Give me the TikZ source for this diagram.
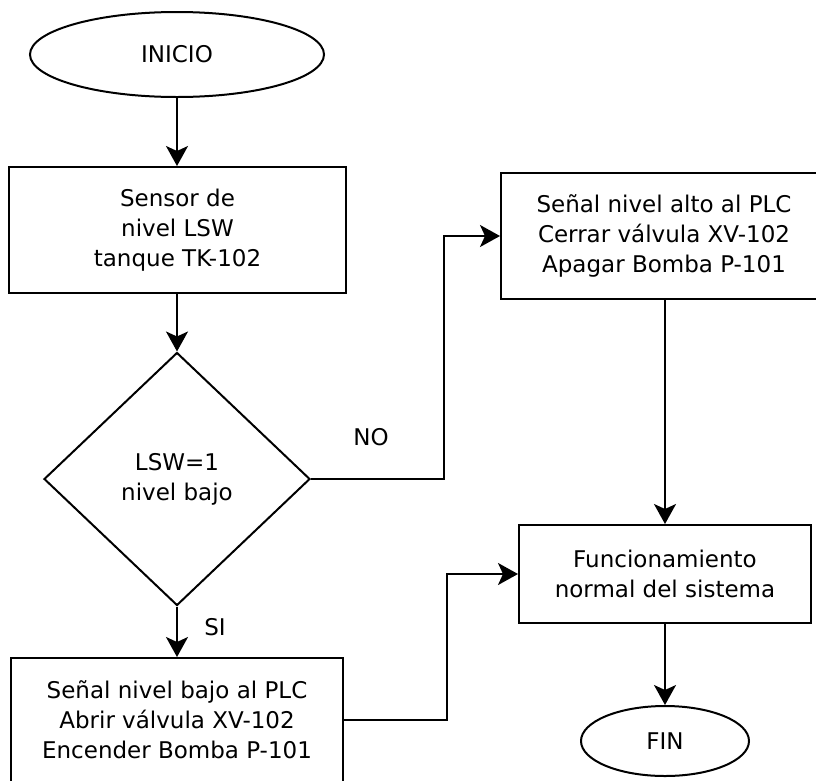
\documentclass[tikz,border=0pt]{standalone}
\usepackage{fontspec}
\setmainfont{DejaVu Sans}
\usetikzlibrary{shapes.geometric,arrows.meta,positioning}

\tikzset{
  every node/.style={font=\fontsize{23}{30}\selectfont, align=center, inner sep=0pt},
  shapeline/.style={draw=black, line width=2pt, fill=white},
  procbox/.style={shapeline, rectangle},
  terminal/.style={shapeline, ellipse},
  decisionbox/.style={shapeline, diamond},
  flow/.style={draw=black, line width=2pt,
    -{Stealth[length=20pt, width=22pt, inset=5pt]}},
  branchlabel/.style={font=\fontsize{23}{30}\selectfont}
}

\begin{document}
\begin{tikzpicture}[x=1pt, y=-1pt]
  \useasboundingbox (0,0) rectangle (816,780);
  \clip (0,0) rectangle (816,780);

  % start / end terminals
  \node[terminal, minimum width=294pt, minimum height=85pt] (inicio) at (177,54.5) {INICIO};
  \node[terminal, minimum width=168pt, minimum height=70pt] (fin) at (665,741) {FIN};

  % sensor reading
  \node[procbox, minimum width=337pt, minimum height=126pt] (sensor) at (177.5,230)
    {Sensor de\\nivel LSW\\tanque TK-102};

  % low level test
  \node[decisionbox, minimum width=266pt, minimum height=253pt] (nivel) at (177,479)
    {LSW=1\\nivel bajo};

  % actions for each branch
  \node[procbox, minimum width=332pt, minimum height=124pt] (bajo) at (177,720)
    {Señal nivel bajo al PLC\\Abrir válvula XV-102\\Encender Bomba P-101};
  \node[procbox, minimum width=326pt, minimum height=126pt] (alto) at (664,236)
    {Señal nivel alto al PLC\\Cerrar válvula XV-102\\Apagar Bomba P-101};

  % normal operation
  \node[procbox, minimum width=292pt, minimum height=98pt] (normal) at (665,574)
    {Funcionamiento\\normal del sistema};

  % connectors
  \draw[flow] (inicio.south) -- (inicio.south |- sensor.north);
  \draw[flow] (sensor.south -| nivel.north) -- (nivel.north);
  \draw[flow] (nivel.south) -- (bajo.north);
  \draw[flow] (nivel.east) -- ++(133,0) |- (alto.west);
  \draw[flow] (bajo.east |- bajo.center) -- ++(103,0) |- (normal.west);
  \draw[flow] (alto.south -| normal.north) -- (normal.north);
  \draw[flow] (normal.south) -- (fin.north);

  % branch labels
  \node[branchlabel] (lblno) at (371,437) {NO};
  \node[branchlabel] (lblsi) at (215,627) {SI};
\end{tikzpicture}
\end{document}
